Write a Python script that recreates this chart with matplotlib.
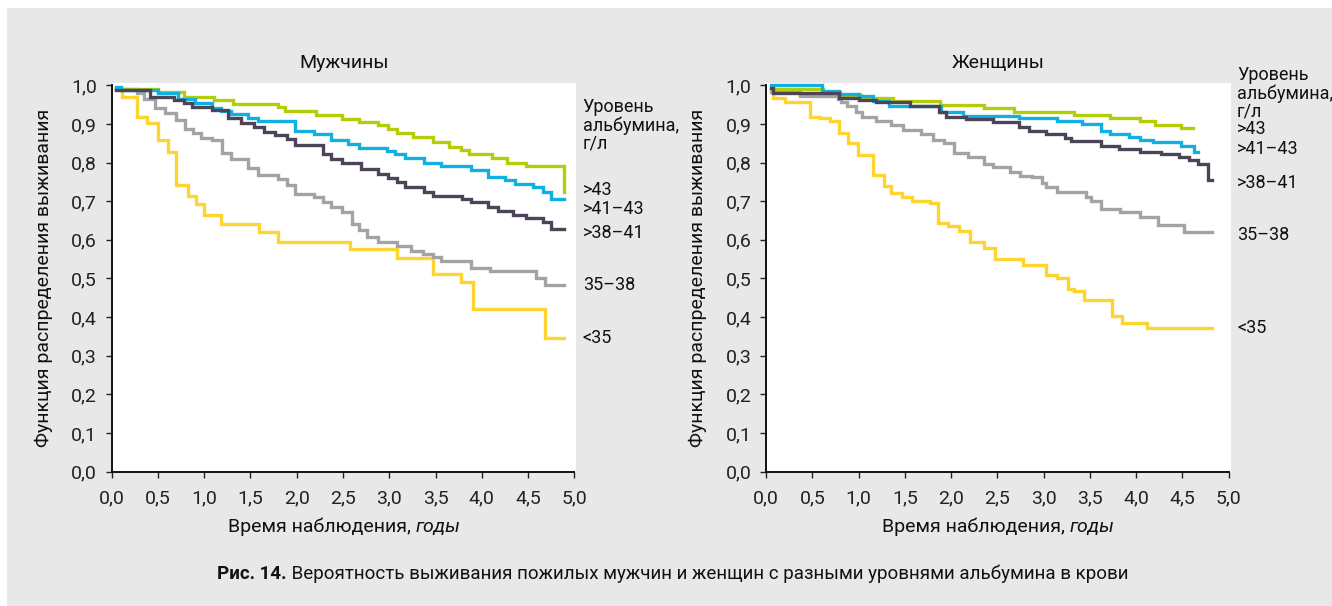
import matplotlib
matplotlib.use("Agg")
import matplotlib.pyplot as plt
import matplotlib.transforms as mtransforms
from matplotlib.patches import Rectangle
from matplotlib.offsetbox import TextArea, HPacker, AnnotationBbox

plt.rcParams['font.family'] = ['Roboto', 'DejaVu Sans']

# --- данные: мужчины ---
men_t_43 = [0.05, 0.50, 0.78, 1.11, 1.31, 1.80, 1.87, 2.21, 2.49, 2.67, 2.88, 2.99, 3.08,
            3.26, 3.47, 3.65, 3.77, 3.86, 4.11, 4.27, 4.48, 4.89]
men_s_43 = [0.99, 0.982, 0.970, 0.961, 0.952, 0.944, 0.933, 0.923, 0.912, 0.905, 0.897, 0.886,
            0.876, 0.865, 0.852, 0.841, 0.832, 0.823, 0.813, 0.80, 0.792, 0.723]

men_t_41 = [0.05, 0.10, 0.50, 0.72, 0.90, 1.08, 1.18, 1.29, 1.47, 1.58, 1.98, 2.19, 2.37, 2.55,
            2.67, 2.97, 3.06, 3.17, 3.38, 3.56, 3.88, 4.07, 4.25, 4.36, 4.55, 4.66, 4.75, 4.89]
men_s_41 = [0.995, 0.988, 0.980, 0.965, 0.953, 0.942, 0.934, 0.926, 0.916, 0.907, 0.882, 0.873,
            0.858, 0.849, 0.837, 0.830, 0.822, 0.811, 0.80, 0.792, 0.780, 0.763, 0.755, 0.744,
            0.736, 0.723, 0.706, 0.706]

men_t_38 = [0.05, 0.41, 0.67, 0.78, 0.87, 1.08, 1.26, 1.40, 1.54, 1.65, 1.76, 1.89, 1.98,
            2.28, 2.37, 2.49, 2.69, 2.88, 2.99, 3.08, 3.17, 3.38, 3.47, 3.79, 3.88, 4.07, 4.18,
            4.34, 4.48, 4.66, 4.75, 4.89]
men_s_38 = [0.987, 0.970, 0.961, 0.953, 0.944, 0.935, 0.915, 0.902, 0.893, 0.880, 0.871, 0.862,
            0.846, 0.822, 0.809, 0.798, 0.783, 0.770, 0.761, 0.749, 0.737, 0.723, 0.713,
            0.706, 0.697, 0.686, 0.675, 0.663, 0.657, 0.645, 0.628, 0.628]

men_t_35 = [0.05, 0.27, 0.35, 0.47, 0.58, 0.69, 0.79, 0.88, 0.97, 1.08, 1.19, 1.29, 1.47, 1.58,
            1.80, 1.89, 1.98, 2.19, 2.28, 2.37, 2.49, 2.60, 2.67, 2.76, 2.88, 3.08, 3.24, 3.36,
            3.47, 3.56, 3.88, 4.09, 4.59, 4.68, 4.89]
men_s_35 = [0.99, 0.981, 0.965, 0.941, 0.928, 0.911, 0.888, 0.876, 0.864, 0.858, 0.825, 0.808,
            0.787, 0.769, 0.758, 0.741, 0.718, 0.710, 0.699, 0.684, 0.673, 0.641, 0.626, 0.607,
            0.594, 0.583, 0.572, 0.564, 0.555, 0.546, 0.527, 0.519, 0.502, 0.482, 0.482]

men_t_lt35 = [0.05, 0.11, 0.27, 0.38, 0.50, 0.61, 0.69, 0.82, 0.91, 1.00, 1.18, 1.59, 1.80,
              2.58, 3.08, 3.47, 3.77, 3.91, 4.68, 4.89]
men_s_lt35 = [0.99, 0.970, 0.919, 0.901, 0.859, 0.827, 0.742, 0.714, 0.693, 0.663, 0.641, 0.620,
              0.595, 0.576, 0.553, 0.512, 0.490, 0.422, 0.346, 0.346]

# --- данные: женщины ---
wom_t_43 = [0.05, 0.62, 0.80, 1.03, 1.37, 1.88, 2.36, 2.68, 3.33, 3.72, 4.04, 4.20, 4.49, 4.61]
wom_s_43 = [0.99, 0.982, 0.975, 0.968, 0.959, 0.950, 0.942, 0.932, 0.923, 0.915, 0.907, 0.898,
            0.889, 0.889]

wom_t_41 = [0.05, 0.61, 0.79, 1.0, 1.16, 1.33, 1.89, 2.13, 2.73, 3.14, 3.42, 3.62, 3.72, 3.92,
            4.04, 4.18, 4.49, 4.63, 4.67]
wom_s_41 = [1.0, 0.985, 0.977, 0.971, 0.960, 0.945, 0.932, 0.921, 0.915, 0.908, 0.899, 0.882,
            0.873, 0.865, 0.858, 0.852, 0.843, 0.828, 0.828]

wom_t_38 = [0.05, 0.08, 0.79, 1.0, 1.19, 1.56, 1.87, 1.94, 2.16, 2.45, 2.73, 2.84, 3.03, 3.23,
            3.30, 3.62, 3.81, 4.04, 4.27, 4.46, 4.57, 4.67, 4.78, 4.82]
wom_s_38 = [0.994, 0.979, 0.968, 0.962, 0.956, 0.945, 0.932, 0.919, 0.912, 0.905, 0.892, 0.882,
            0.873, 0.863, 0.856, 0.843, 0.835, 0.828, 0.822, 0.815, 0.806, 0.797, 0.754, 0.754]

wom_t_35 = [0.05, 0.37, 0.78, 0.81, 0.87, 0.97, 1.04, 1.19, 1.35, 1.48, 1.67, 1.81, 1.92, 2.03,
            2.18, 2.36, 2.45, 2.64, 2.75, 2.87, 2.98, 3.03, 3.14, 3.46, 3.51, 3.62, 3.83, 4.04,
            4.24, 4.52, 4.82]
wom_s_35 = [0.982, 0.971, 0.965, 0.956, 0.945, 0.932, 0.917, 0.908, 0.898, 0.885, 0.874, 0.859,
            0.850, 0.824, 0.815, 0.796, 0.789, 0.775, 0.766, 0.762, 0.746, 0.736, 0.723, 0.712,
            0.701, 0.680, 0.673, 0.660, 0.639, 0.620, 0.620]

wom_t_lt35 = [0.05, 0.08, 0.20, 0.48, 0.58, 0.69, 0.79, 0.89, 0.99, 1.16, 1.27, 1.35, 1.47, 1.58,
              1.77, 1.86, 1.97, 2.09, 2.20, 2.36, 2.48, 2.78, 3.03, 3.14, 3.26, 3.33, 3.44, 3.74,
              3.85, 4.12, 4.82]
wom_s_lt35 = [0.99, 0.968, 0.957, 0.918, 0.914, 0.908, 0.876, 0.850, 0.819, 0.769, 0.739, 0.720,
              0.710, 0.701, 0.694, 0.643, 0.636, 0.622, 0.595, 0.579, 0.550, 0.536, 0.508, 0.500,
              0.473, 0.467, 0.443, 0.404, 0.385, 0.373, 0.373]

groups = ['>43', '>41–43', '>38–41', '35–38', '<35']
colors = {'>43': '#b4cc0a', '>41–43': '#12b0e0', '>38–41': '#4e4459',
          '35–38': '#a3a3a3', '<35': '#fed530'}
draw_order = ['<35', '35–38', '>43', '>41–43', '>38–41']

x_ticks = [0, 0.5, 1, 1.5, 2, 2.5, 3, 3.5, 4, 4.5, 5]
y_ticks = [0, 0.1, 0.2, 0.3, 0.4, 0.5, 0.6, 0.7, 0.8, 0.9, 1.0]

men = {'>43': (men_t_43, men_s_43), '>41–43': (men_t_41, men_s_41),
       '>38–41': (men_t_38, men_s_38), '35–38': (men_t_35, men_s_35),
       '<35': (men_t_lt35, men_s_lt35)}
women = {'>43': (wom_t_43, wom_s_43), '>41–43': (wom_t_41, wom_s_41),
         '>38–41': (wom_t_38, wom_s_38), '35–38': (wom_t_35, wom_s_35),
         '<35': (wom_t_lt35, wom_s_lt35)}

# позиции подписей справа (по оси y)
men_head_y = [0.944, 0.894, 0.850]
men_label_y = [0.728, 0.681, 0.618, 0.483, 0.347]
wom_head_y = [1.026, 0.979, 0.933]
wom_label_y = [0.886, 0.835, 0.748, 0.612, 0.371]
head_lines = ['Уровень', 'альбумина,', 'г/л']

FS = 14
FS_SIDE = 13
INK = '#111111'
BG = '#e8e8e8'


def fmt(v):
    return ('%.1f' % v).replace('.', ',')


def draw_panel(ax, data, title, head_y, label_y):
    for g in draw_order:
        t, s = data[g]
        ax.step(t, s, where='post', color=colors[g], lw=2.4, solid_joinstyle='miter')

    ax.set_xlim(0, 5.02)
    ax.set_ylim(0, 1.005)
    ax.set_xticks(x_ticks)
    ax.set_xticklabels([fmt(v) for v in x_ticks])
    ax.set_yticks(y_ticks)
    ax.set_yticklabels([fmt(v) for v in y_ticks])
    ax.tick_params(axis='both', labelsize=FS, direction='out', length=4.5, width=1,
                   colors='#222222')
    ax.tick_params(axis='x', pad=8)
    ax.tick_params(axis='y', pad=6)
    for side in ['top', 'right']:
        ax.spines[side].set_visible(False)
    for side in ['left', 'bottom']:
        ax.spines[side].set_linewidth(1.4)
        ax.spines[side].set_color(INK)
    ax.spines['left'].set_bounds(0, 1)
    ax.spines['bottom'].set_bounds(0, 5)

    ax.text(0.5, 1.053, title, transform=ax.transAxes, ha='center', va='center',
            fontsize=FS, color=INK)
    ax.text(-0.146, 0.5, 'Функция распределения выживания', transform=ax.transAxes,
            rotation=90, ha='center', va='center', fontsize=FS, color=INK)

    parts = [TextArea('Время наблюдения, ', textprops=dict(fontsize=FS, color=INK)),
             TextArea('годы', textprops=dict(fontsize=FS, color=INK, style='italic'))]
    pack = HPacker(children=parts, align='baseline', pad=0, sep=0)
    ab = AnnotationBbox(pack, (0.5, -0.142), xycoords='axes fraction', frameon=False,
                        box_alignment=(0.5, 0.5), pad=0, annotation_clip=False)
    ax.add_artist(ab)

    trans = mtransforms.blended_transform_factory(ax.transAxes, ax.transData)
    for line, y in zip(head_lines, head_y):
        ax.text(1.014, y, line, transform=trans, ha='left', va='center',
                fontsize=FS_SIDE, color=INK, clip_on=False)
    for g, y in zip(groups, label_y):
        ax.text(1.014, y, g, transform=trans, ha='left', va='center',
                fontsize=FS_SIDE, color=INK, clip_on=False)


fig = plt.figure(figsize=(13.32, 6.06), dpi=100, facecolor='white')
fig.patches.append(Rectangle((7 / 1332, 0), 1 - 7 / 1332, 598 / 606, transform=fig.transFigure,
                             facecolor=BG, edgecolor='none', zorder=-10))

ax1 = fig.add_axes([111.7 / 1332, 134.3 / 606, 464.5 / 1332, 388.4 / 606])
ax2 = fig.add_axes([766.0 / 1332, 134.3 / 606, 464.5 / 1332, 388.4 / 606])

draw_panel(ax1, men, 'Мужчины', men_head_y, men_label_y)
draw_panel(ax2, women, 'Женщины', wom_head_y, wom_label_y)

cap = [TextArea('Рис. 14.', textprops=dict(fontsize=13.5, color=INK, weight='bold')),
       TextArea(' Вероятность выживания пожилых мужчин и женщин с разными уровнями альбумина в крови',
                textprops=dict(fontsize=13.5, color=INK))]
cap_pack = HPacker(children=cap, align='baseline', pad=0, sep=0)
fig.add_artist(AnnotationBbox(cap_pack, (0.505, 0.053), xycoords='figure fraction',
                              frameon=False, box_alignment=(0.5, 0.5), pad=0))

fig.savefig('out.png', dpi=100, facecolor='white')
